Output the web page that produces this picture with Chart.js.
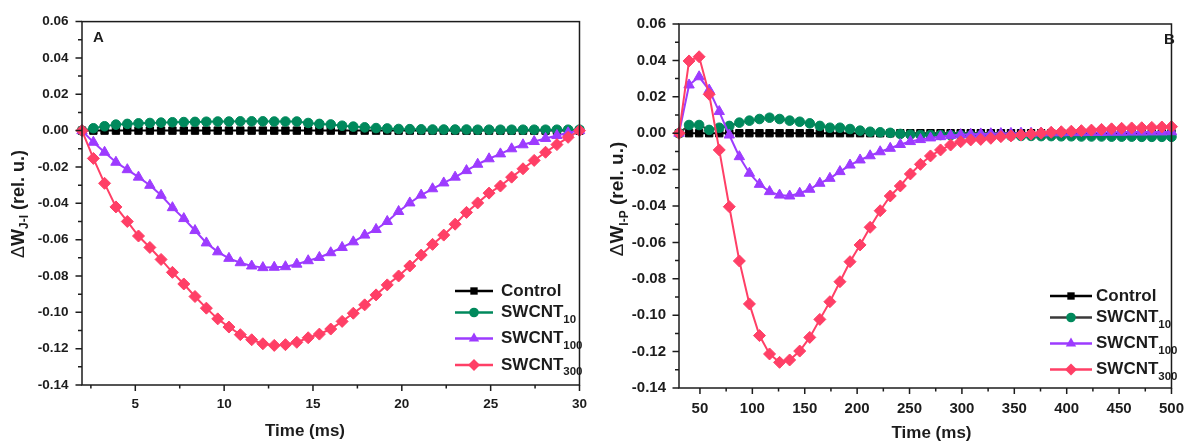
<!DOCTYPE html>
<html>
<head>
<meta charset="utf-8">
<script src="https://cdn.jsdelivr.net/npm/chart.js@4.4.0/dist/chart.umd.min.js"></script>
<style>
html, body { margin: 0; padding: 0; background: #fff; }
#wrap { position: relative; width: 1196px; height: 443px; }
canvas { position: absolute; top: 0; }
#chartA { left: 0; }
#chartB { left: 598px; }
</style>
</head>
<body>
<div id="wrap">
  <canvas id="chartA" width="598" height="443"></canvas>
  <canvas id="chartB" width="598" height="443"></canvas>
</div>
<script>
// ---- panel A : J-I phase, time in ms ----
const timeA = [2.00, 2.64, 3.27, 3.91, 4.55, 5.18, 5.82, 6.45, 7.09, 7.73, 8.36, 9.00, 9.64, 10.27, 10.91,
    11.55, 12.18, 12.82, 13.45, 14.09, 14.73, 15.36, 16.00, 16.64, 17.27, 17.91, 18.55, 19.18, 19.82, 20.45,
    21.09, 21.73, 22.36, 23.00, 23.64, 24.27, 24.91, 25.55, 26.18, 26.82, 27.45, 28.09, 28.73, 29.36, 30.00];
const controlA = [0, 0, 0, 0, 0, 0, 0, 0, 0, 0, 0, 0, 0, 0, 0, 0, 0, 0, 0, 0, 0, 0, 0, 0, 0, 0, 0, 0, 0, 0,
    0, 0, 0, 0, 0, 0, 0, 0, 0, 0, 0, 0, 0, 0, 0];
const swcnt10A = [0, 0.0013, 0.0024, 0.0033, 0.0037, 0.004, 0.0042, 0.0044, 0.0046, 0.0047, 0.0048, 0.0049,
    0.005, 0.005, 0.0051, 0.0051, 0.0051, 0.005, 0.005, 0.005, 0.0042, 0.0037, 0.0034, 0.0027, 0.0022, 0.0018,
    0.0014, 0.0012, 0.0009, 0.0008, 0.0007, 0.0006, 0.0006, 0.0006, 0.0006, 0.0005, 0.0005, 0.0005, 0.0005,
    0.0005, 0.0005, 0.0005, 0.0005, 0.0005, 0.0005];
const swcnt100A = [0, -0.0064, -0.0119, -0.0174, -0.0215, -0.0256, -0.0301, -0.0356, -0.0424, -0.0484, -0.055,
    -0.0618, -0.0667, -0.0703, -0.0727, -0.0745, -0.0754, -0.0752, -0.0749, -0.0735, -0.0716, -0.0698, -0.0672,
    -0.0643, -0.0612, -0.0575, -0.0544, -0.050, -0.0445, -0.0398, -0.0355, -0.032, -0.0288, -0.0256, -0.022,
    -0.0185, -0.0155, -0.0128, -0.0100, -0.0078, -0.006, -0.0043, -0.0027, -0.0012, 0];
const swcnt300A = [0, -0.0153, -0.029, -0.042, -0.050, -0.058, -0.0643, -0.0709, -0.078, -0.0844, -0.0913,
    -0.0977, -0.1036, -0.1081, -0.1123, -0.1151, -0.1173, -0.1182, -0.1178, -0.1165, -0.114, -0.112, -0.1092,
    -0.105, -0.1005, -0.0959, -0.0904, -0.0849, -0.080, -0.0745, -0.0685, -0.0626, -0.0575, -0.0515, -0.045,
    -0.0398, -0.0344, -0.0305, -0.0256, -0.021, -0.0164, -0.0119, -0.0077, -0.0037, 0];

// ---- panel B : I-P phase, time in ms ----
const timeB = [30, 39.6, 49.2, 58.8, 68.4, 78, 87.6, 97.2, 106.8, 116.4, 126, 135.6, 145.2, 154.8, 164.4,
    174, 183.6, 193.2, 202.8, 212.4, 222, 231.6, 241.2, 250.8, 260.4, 270, 279.6, 289.2, 298.8, 308.4,
    318, 327.6, 337.2, 346.8, 356.4, 366, 375.6, 385.2, 394.8, 404.4, 414, 423.6, 433.2, 442.8, 452.4,
    462, 471.6, 481.2, 490.8, 500];
const controlB = [0, 0, 0, 0, 0, 0, 0, 0, 0, 0, 0, 0, 0, 0, 0, 0, 0, 0, 0, 0, 0, 0, 0, 0, 0, 0, 0, 0, 0, 0,
    0, 0, 0, 0, 0, 0, 0, 0, 0, 0, 0, 0, 0, 0, 0, 0, 0, 0, 0, 0];
const swcnt10B = [0, 0.0045, 0.0045, 0.0018, 0.003, 0.004, 0.0058, 0.0069, 0.0078, 0.0085, 0.0078, 0.0069,
    0.0063, 0.0054, 0.004, 0.003, 0.003, 0.0023, 0.0014, 0.0008, 0.0005, 0.0002, -0.0004, -0.0008, -0.001,
    -0.001, -0.001, -0.0011, -0.0011, -0.0012, -0.0012, -0.0013, -0.0013, -0.0014, -0.0015, -0.0015, -0.0016,
    -0.0016, -0.0017, -0.0017, -0.0018, -0.0018, -0.0018, -0.0019, -0.0019, -0.0019, -0.002, -0.002, -0.002, -0.002];
const swcnt100B = [0, 0.0265, 0.031, 0.0237, 0.0119, -0.001, -0.0129, -0.022, -0.0281, -0.0321, -0.034, -0.0345,
    -0.033, -0.0308, -0.0275, -0.0248, -0.0211, -0.0175, -0.0147, -0.0124, -0.0102, -0.0083, -0.0062, -0.0046,
    -0.0035, -0.0026, -0.0019, -0.0012, -0.0008, -0.0006, -0.0004, -0.0003, -0.0002, -0.0001, 0, 0, 0.0001,
    0.0002, 0.0002, 0.0003, 0.0003, 0.0004, 0.0004, 0.0005, 0.0005, 0.0006, 0.0006, 0.0007, 0.0007, 0.0008];
const swcnt300B = [0, 0.0397, 0.042, 0.0214, -0.0092, -0.0404, -0.0702, -0.0938, -0.1112, -0.1213, -0.1259,
    -0.1246, -0.1197, -0.1122, -0.1023, -0.0926, -0.0816, -0.0706, -0.0614, -0.0517, -0.0426, -0.0345, -0.029,
    -0.0224, -0.0171, -0.0125, -0.0092, -0.0065, -0.0047, -0.0037, -0.0034, -0.0028, -0.0019, -0.0015, -0.001,
    -0.0005, 0, 0.0005, 0.0008, 0.0011, 0.0014, 0.0017, 0.0021, 0.0024, 0.0027, 0.0029, 0.003, 0.0032, 0.0034, 0.0036];

// ---- ticks ----
const xTicksA = [5, 10, 15, 20, 25, 30];
const xTicksB = [50, 100, 150, 200, 250, 300, 350, 400, 450, 500];
const yTicks = [-0.14, -0.12, -0.10, -0.08, -0.06, -0.04, -0.02, 0.00, 0.02, 0.04, 0.06];

const FONT = '"Liberation Sans", Arial, Helvetica, sans-serif';
const INK = '#1c1c1c';
const C_CTRL = '#000000';
const C_10 = '#00895C';
const C_100 = '#9D3BFF';
const C_300 = '#FF3F66';

function pts(xs, ys) { return xs.map((x, i) => ({ x, y: ys[i] })); }

function series(label, xs, ys, color, style, radius, order, lineColor) {
    return {
        label, data: pts(xs, ys),
        borderColor: lineColor || color, backgroundColor: color,
        pointBackgroundColor: color, pointBorderColor: color,
        pointStyle: style, pointRadius: radius, pointBorderWidth: 1,
        borderWidth: 2, tension: 0, clip: false, order
    };
}

function minorOf(major, min, max) {
    const step = major[1] - major[0];
    const out = [];
    const first = major[0] - step / 2;
    if (first >= min - 1e-9) out.push(first);
    for (let i = 0; i < major.length - 1; i++) out.push((major[i] + major[i + 1]) / 2);
    const last = major[major.length - 1] + step / 2;
    if (last <= max + 1e-9) out.push(last);
    return out;
}

function marker(ctx, style, x, y, r, color) {
    ctx.fillStyle = color;
    ctx.beginPath();
    if (style === 'rect') {
        const s = r * Math.SQRT1_2;
        ctx.rect(x - s, y - s, 2 * s, 2 * s);
    } else if (style === 'circle') {
        ctx.arc(x, y, r, 0, Math.PI * 2);
    } else if (style === 'triangle') {
        ctx.moveTo(x, y - r);
        ctx.lineTo(x + r * 0.866, y + r * 0.5);
        ctx.lineTo(x - r * 0.866, y + r * 0.5);
        ctx.closePath();
    } else {
        ctx.moveTo(x - r, y); ctx.lineTo(x, y - r); ctx.lineTo(x + r, y); ctx.lineTo(x, y + r);
        ctx.closePath();
    }
    ctx.fill();
}

function subText(ctx, x, y, main, sub, size, subSize, subDrop) {
    ctx.font = `bold ${size}px ${FONT}`;
    ctx.fillText(main, x, y);
    const w = ctx.measureText(main).width;
    if (!sub) return w;
    ctx.font = `bold ${subSize}px ${FONT}`;
    ctx.fillText(sub, x + w, y + subDrop);
    return w + ctx.measureText(sub).width;
}

function decorations(o) {
    return {
        id: 'decor',
        afterDraw(chart) {
            const { ctx, chartArea: a, scales: { x, y } } = chart;
            ctx.save();
            ctx.strokeStyle = INK;
            ctx.lineWidth = 1.5;
            ctx.strokeRect(a.left, a.top, a.right - a.left, a.bottom - a.top);

            // tick marks, pointing out
            ctx.beginPath();
            o.xTicks.forEach(v => { const p = x.getPixelForValue(v); ctx.moveTo(p, a.bottom); ctx.lineTo(p, a.bottom + 6); });
            minorOf(o.xTicks, o.xMin, o.xMax).forEach(v => { const p = x.getPixelForValue(v); ctx.moveTo(p, a.bottom); ctx.lineTo(p, a.bottom + 3.5); });
            yTicks.forEach(v => { const p = y.getPixelForValue(v); ctx.moveTo(a.left, p); ctx.lineTo(a.left - 6.5, p); });
            minorOf(yTicks, -0.14, 0.06).forEach(v => { const p = y.getPixelForValue(v); ctx.moveTo(a.left, p); ctx.lineTo(a.left - 4, p); });
            ctx.stroke();

            ctx.fillStyle = INK;
            ctx.textBaseline = 'middle';

            // x title
            ctx.textAlign = 'center';
            ctx.font = `bold 17px ${FONT}`;
            ctx.fillText('Time (ms)', o.xTitle[0], o.xTitle[1]);

            // panel letter
            ctx.font = `bold 15px ${FONT}`;
            ctx.fillText(o.letter, o.letterPos[0], o.letterPos[1]);

            // y title, rotated, with subscript
            ctx.save();
            ctx.translate(o.yTitle[0], o.yTitle[1]);
            ctx.rotate(-Math.PI / 2);
            ctx.textAlign = 'left';
            const fs = o.yTitleSize;
            const ss = Math.round(fs * 0.64);
            ctx.font = `${fs}px ${FONT}`;
            const wD = ctx.measureText('\u0394').width;
            ctx.font = `bold ${fs}px ${FONT}`;
            const wW = ctx.measureText('W').width;
            const wR = ctx.measureText(' (rel. u.)').width;
            ctx.font = `bold ${ss}px ${FONT}`;
            const wS = ctx.measureText(o.ySub).width;
            let cx = -(wD + wW + wS + wR) / 2;
            ctx.font = `${fs}px ${FONT}`;
            ctx.fillText('\u0394', cx, 0); cx += wD;
            ctx.font = `bold ${fs}px ${FONT}`;
            ctx.fillText('W', cx, 0); cx += wW;
            ctx.font = `bold ${ss}px ${FONT}`;
            ctx.fillText(o.ySub, cx, fs * 0.33); cx += wS;
            ctx.font = `bold ${fs}px ${FONT}`;
            ctx.fillText(' (rel. u.)', cx, 0);
            ctx.restore();

            // legend
            const L = o.legend;
            ctx.textAlign = 'left';
            L.items.forEach((it, i) => {
                const ry = L.rows[i];
                ctx.strokeStyle = it.line;
                ctx.lineWidth = 2.5;
                ctx.beginPath(); ctx.moveTo(L.x0, ry); ctx.lineTo(L.x1, ry); ctx.stroke();
                marker(ctx, it.style, (L.x0 + L.x1) / 2, ry, it.r, it.color);
                ctx.fillStyle = INK;
                subText(ctx, L.tx, ry, it.name, it.sub, 17, 11.5, 7);
            });
            ctx.restore();
        }
    };
}

function makeChart(id, o) {
    const tickFont = { family: FONT, size: o.tickSize, weight: 'bold' };
    return new Chart(document.getElementById(id), {
        type: 'line',
        data: { datasets: o.datasets },
        options: {
            responsive: false,
            animation: false,
            events: [],
            layout: { padding: { top: o.top, right: o.right, left: 0, bottom: 0 } },
            plugins: { legend: { display: false }, tooltip: { enabled: false } },
            scales: {
                x: {
                    type: 'linear', min: o.xMin, max: o.xMax,
                    afterBuildTicks: s => { s.ticks = o.xTicks.map(v => ({ value: v })); },
                    afterFit: s => { s.height = o.xHeight; },
                    grid: { display: false, drawTicks: false }, border: { display: false },
                    ticks: { color: INK, padding: o.xPad, font: tickFont, maxRotation: 0, autoSkip: false }
                },
                y: {
                    type: 'linear', min: -0.14, max: 0.06,
                    afterBuildTicks: s => { s.ticks = yTicks.map(v => ({ value: v })); },
                    afterFit: s => { s.width = o.yWidth; },
                    grid: { display: false, drawTicks: false }, border: { display: false },
                    ticks: { color: INK, padding: o.yPad, font: tickFont, autoSkip: false, callback: v => v.toFixed(2) }
                }
            }
        },
        plugins: [decorations(o)]
    });
}

makeChart('chartA', {
    datasets: [
        series('Control', timeA, controlA, C_CTRL, 'rect', 5.2, 4),
        series('SWCNT10', timeA, swcnt10A, C_10, 'circle', 4.8, 3),
        series('SWCNT100', timeA, swcnt100A, C_100, 'triangle', 6, 2),
        series('SWCNT300', timeA, swcnt300A, C_300, 'rectRot', 6, 1)
    ],
    xMin: 2, xMax: 30, xTicks: xTicksA,
    top: 20, right: 11, yWidth: 82, xHeight: 58,
    tickSize: 13.5, xPad: 11, yPad: 13.5,
    xTitle: [305, 431], letter: 'A', letterPos: [98.5, 38],
    yTitle: [19, 204], yTitleSize: 18, ySub: 'J-I',
    legend: {
        x0: 455, x1: 493, tx: 501, rows: [291, 312.5, 338.5, 365],
        items: [
            { name: 'Control', sub: '', color: C_CTRL, line: C_CTRL, style: 'rect', r: 5.2 },
            { name: 'SWCNT', sub: '10', color: C_10, line: C_10, style: 'circle', r: 4.8 },
            { name: 'SWCNT', sub: '100', color: C_100, line: C_100, style: 'triangle', r: 6 },
            { name: 'SWCNT', sub: '300', color: C_300, line: C_300, style: 'rectRot', r: 6 }
        ]
    }
});

makeChart('chartB', {
    datasets: [
        series('Control', timeB, controlB, C_CTRL, 'rect', 5.2, 4),
        series('SWCNT10', timeB, swcnt10B, C_10, 'circle', 4.8, 3, '#3a3a3a'),
        series('SWCNT100', timeB, swcnt100B, C_100, 'triangle', 6, 2),
        series('SWCNT300', timeB, swcnt300B, C_300, 'rectRot', 6, 1)
    ],
    xMin: 30, xMax: 500, xTicks: xTicksB,
    top: 24, right: 12, yWidth: 81, xHeight: 55,
    tickSize: 15, xPad: 12, yPad: 13,
    xTitle: [333.5, 433], letter: 'B', letterPos: [571.5, 40],
    yTitle: [20, 199], yTitleSize: 19, ySub: 'I-P',
    legend: {
        x0: 452, x1: 494, tx: 498, rows: [296, 317.5, 343.5, 369.5],
        items: [
            { name: 'Control', sub: '', color: C_CTRL, line: C_CTRL, style: 'rect', r: 5.2 },
            { name: 'SWCNT', sub: '10', color: C_10, line: '#3a3a3a', style: 'circle', r: 4.8 },
            { name: 'SWCNT', sub: '100', color: C_100, line: C_100, style: 'triangle', r: 6 },
            { name: 'SWCNT', sub: '300', color: C_300, line: C_300, style: 'rectRot', r: 6 }
        ]
    }
});
</script>
</body>
</html>
